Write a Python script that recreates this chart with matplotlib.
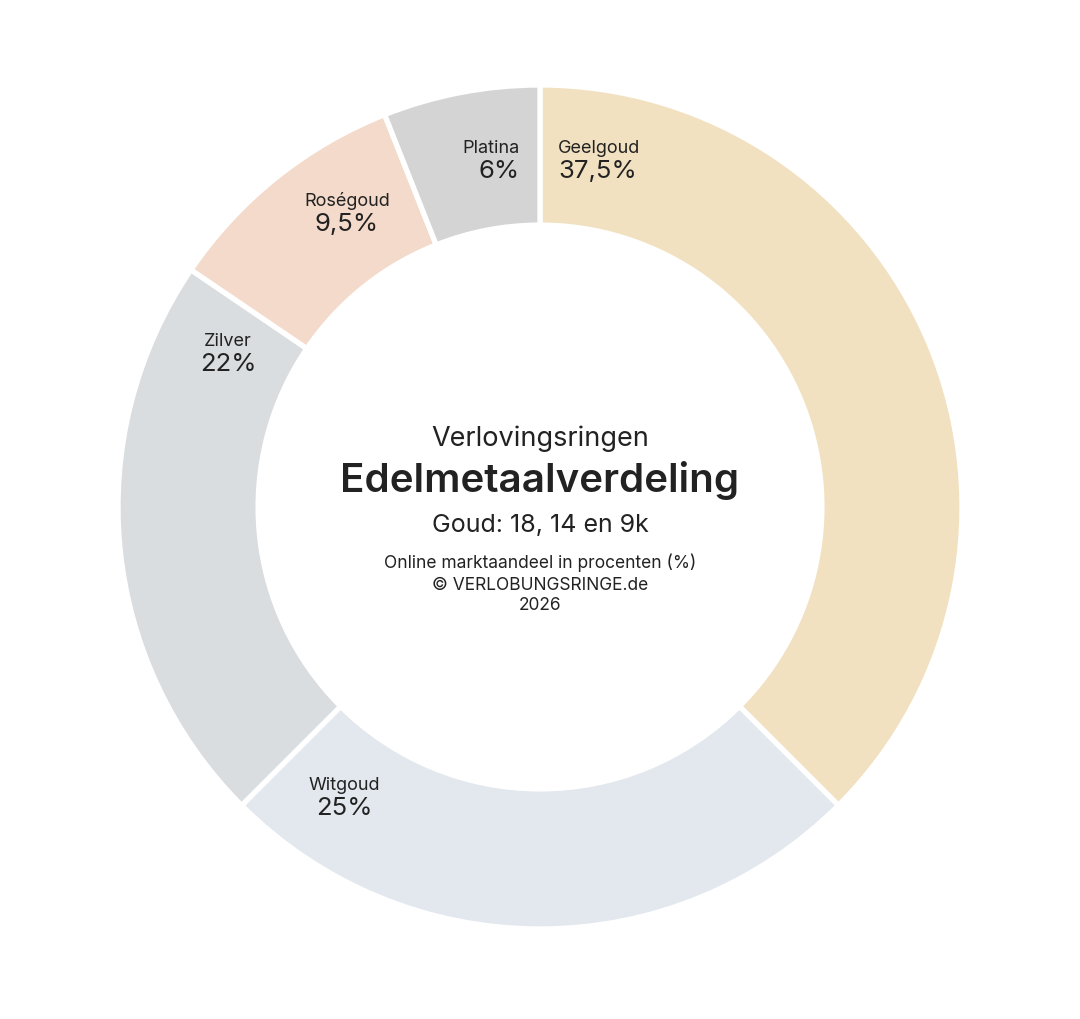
import matplotlib.pyplot as plt

plt.rcParams['font.family'] = ['Inter', 'DejaVu Sans']

metals = ['Geelgoud', 'Witgoud', 'Zilver', 'Roségoud', 'Platina']
shares = [37.5, 25, 22, 9.5, 6]
share_labels = ['37,5%', '25%', '22%', '9,5%', '6%']
colors = ['#F2E1C1', '#E3E8EE', '#D9DDDF', '#F3DACA', '#D4D4D4']

# label placement (pixels from top-left) and alignment
label_pos = [(558, 158, 'left'), (344, 795, 'center'), (228, 351, 'center'),
             (347, 211, 'center'), (520, 158, 'right')]

W, H = 1080, 1020
fig = plt.figure(figsize=(W / 100, H / 100), dpi=100)
ax = fig.add_axes([0, 0, 1, 1])
ax.set_xlim(0, W)
ax.set_ylim(0, H)
ax.set_aspect('equal')
ax.axis('off')

cx, cy, r = 540, H - 508, 422
ax.pie(shares, colors=colors, startangle=90, counterclock=False,
       center=(cx, cy), radius=r,
       wedgeprops=dict(width=r * 0.332, edgecolor='white', linewidth=3.8))
ax.set_xlim(0, W)
ax.set_ylim(0, H)

txt = '#222222'
for (x, y, ha), name, pct in zip(label_pos, metals, share_labels):
    ax.text(x, H - y + 1, name, ha=ha, va='bottom', fontsize=13, color=txt,
            fontweight='normal')
    ax.text(x, H - y - 2, pct, ha=ha, va='top', fontsize=18.5, color=txt,
            fontweight='normal')

ax.text(cx, H - 439, 'Verlovingsringen', ha='center', va='center', fontsize=19.5,
        color=txt, fontweight='normal')
ax.text(cx, H - 481, 'Edelmetaalverdeling', ha='center', va='center', fontsize=29,
        fontweight='semibold', color=txt)
ax.text(cx, H - 526, 'Goud: 18, 14 en 9k', ha='center', va='center', fontsize=18,
        color=txt, fontweight='normal')
for y, line in [(563, 'Online marktaandeel in procenten (%)'),
                (585, '© VERLOBUNGSRINGE.de'), (606, '2026')]:
    ax.text(cx, H - y, line, ha='center', va='center', fontsize=12.5, color=txt,
            fontweight='normal')

fig.savefig('out.png', dpi=100, facecolor='white')
